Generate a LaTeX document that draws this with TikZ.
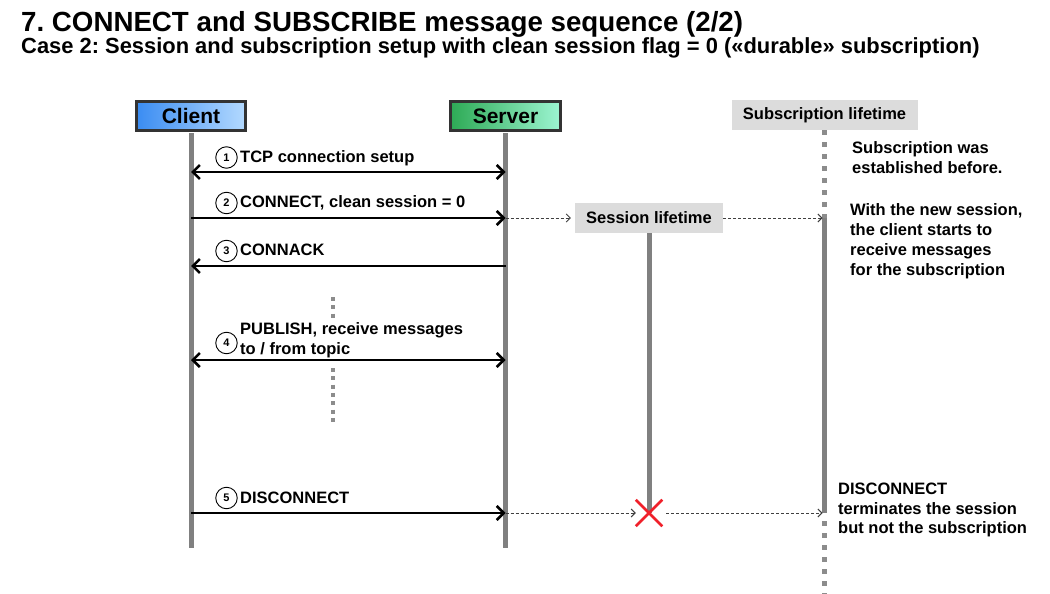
\documentclass[tikz,border=0pt]{standalone}
\usepackage{fontspec}
\setmainfont{Liberation Sans}
\usetikzlibrary{arrows.meta,shapes.misc}
\frenchspacing

\definecolor{lifegray}{HTML}{808080}
\definecolor{dotgray}{HTML}{8C8C8C}
\definecolor{boxgray}{HTML}{DCDCDC}
\definecolor{clientL}{HTML}{3A8CF2}
\definecolor{clientR}{HTML}{B4DAFF}
\definecolor{serverL}{HTML}{2EAA55}
\definecolor{serverR}{HTML}{9CF5D2}
\definecolor{xred}{HTML}{F0202A}

\begin{document}
\begin{tikzpicture}[x=1pt,y=-1pt,
  actor/.style={draw=black!80, line width=2.6pt, minimum width=109.5pt, minimum height=29.5pt,
    inner sep=0pt, font=\bfseries\fontsize{21}{24}\selectfont},
  lifebox/.style={fill=boxgray, minimum height=30pt, inner sep=0pt,
    font=\bfseries\fontsize{16.5}{19}\selectfont},
  life/.style={draw=lifegray, line width=5pt},
  subdots/.style={draw=dotgray, line width=5pt, dash pattern=on 5pt off 7pt},
  middots/.style={draw=dotgray, line width=4pt, dash pattern=on 4pt off 4.3pt},
  msg/.style={draw=black, line width=2.5pt, -{Straight Barb[length=7pt,width=14pt]}},
  msgboth/.style={draw=black, line width=2.5pt,
    {Straight Barb[length=7pt,width=14pt]}-{Straight Barb[length=7pt,width=14pt]}},
  hint/.style={draw=black!75, line width=0.9pt, dash pattern=on 3pt off 2pt,
    -{Straight Barb[length=4pt,width=8pt]}},
  lbl/.style={anchor=base west, inner sep=0pt, font=\bfseries\fontsize{16.5}{19}\selectfont},
  num/.style={circle, draw=black, line width=0.9pt, minimum size=21.5pt, inner sep=0pt,
    font=\bfseries\fontsize{11}{11}\selectfont},
  note/.style={anchor=north west, align=left, inner sep=0pt,
    font=\bfseries\fontsize{16.5}{20}\selectfont}
]
\path[use as bounding box, fill=white] (0,0) rectangle (1050,594);

% headings
\node[anchor=base west, inner sep=0pt, font=\bfseries\fontsize{27.7}{30}\selectfont]
  (title) at (21,32) {7. CONNECT and SUBSCRIBE message sequence (2/2)};
\node[anchor=base west, inner sep=0pt, font=\bfseries\fontsize{21.9}{24}\selectfont]
  (subtitle) at (21,54) {Case 2: Session and subscription setup with clean session flag = 0 («durable» subscription)};

% participants
\node[actor, left color=clientL, right color=clientR] (client) at (191,116) {Client};
\node[actor, left color=serverL, right color=serverR] (server) at (505.5,116) {Server};
\node[lifebox, minimum width=186pt] (sub) at (824.5,115) {Subscription lifetime};
\node[lifebox, minimum width=148pt] (sess) at (649,218) {Session lifetime};

% lifeline end points
\coordinate (cEnd) at (191,548);
\coordinate (sEnd) at (505.5,548);
\coordinate (subA) at (824.5,218);
\coordinate (subB) at (824.5,513);
\coordinate (subC) at (824.5,521);
\coordinate (subEnd) at (824.5,596);
\coordinate (sessEnd) at (649,513);

% lifelines
\draw[life] ([yshift=-1.3pt]client.south) -- (cEnd);
\draw[life] ([yshift=-1.3pt]server.south) -- (sEnd);
\draw[subdots] (sub.south) -- (subA);
\draw[life] (subA) -- (subB);
\draw[subdots] (subC) -- (subEnd);
\draw[life] (sess.south) -- (sessEnd);
\node[cross out, draw=xred, line width=2.5pt, minimum size=24pt, inner sep=0pt] (xmark) at (sessEnd) {};

% message rows
\coordinate (c1) at (191,172);   \coordinate (s1) at (505.5,172);
\coordinate (c2) at (191,218);   \coordinate (s2) at (505.5,218);
\coordinate (c3) at (191,266);   \coordinate (s3) at (505.5,266);
\coordinate (c4) at (191,360);   \coordinate (s4) at (505.5,360);
\coordinate (c5) at (191,513);   \coordinate (s5) at (505.5,513);

% 1 TCP connection setup
\draw[msgboth] (c1) -- (s1);
\node[num] (n1) at (226.5,157.5) {1};
\node[lbl] (t1) at (240,162) {TCP connection setup};

% 2 CONNECT
\draw[msg] (c2) -- (s2);
\node[num] (n2) at (226.5,203) {2};
\node[lbl] (t2) at (240,207) {CONNECT, clean session = 0};
\draw[hint, shorten >=4pt] (s2) -- (sess.west);
\draw[hint, shorten >=2pt] (sess.east) -- (subA);

% 3 CONNACK
\draw[msg] (s3) -- (c3);
\node[num] (n3) at (226.5,251) {3};
\node[lbl] (t3) at (240,255) {CONNACK};

% elided exchanges
\coordinate (dA) at (333,297);  \coordinate (dB) at (333,318);
\coordinate (dC) at (333,368);  \coordinate (dD) at (333,422);
\draw[middots] (dA) -- (dB);
\draw[middots] (dC) -- (dD);

% 4 PUBLISH
\draw[msgboth] (c4) -- (s4);
\node[num] (n4) at (226.5,343) {4};
\node[lbl] (t4a) at (240,334) {PUBLISH, receive messages};
\node[lbl] (t4b) at (240,354) {to / from topic};

% 5 DISCONNECT
\draw[msg] (c5) -- (s5);
\node[num] (n5) at (226.5,498) {5};
\node[lbl] (t5) at (240,503) {DISCONNECT};
\draw[hint] (s5) -- (xmark.west);
\draw[hint, shorten <=4pt, shorten >=2pt] (xmark.east) -- (subB);

% side notes
\node[note] (noteA) at (852,141) {Subscription was\\established before.};
\node[note] (noteB) at (850,203) {With the new session,\\the client starts to\\receive messages\\for the subscription};
\node[note, font=\bfseries\fontsize{16.5}{19.5}\selectfont] (noteC) at (838,483)
  {DISCONNECT\\terminates the session\\but not the subscription};
\end{tikzpicture}
\end{document}
